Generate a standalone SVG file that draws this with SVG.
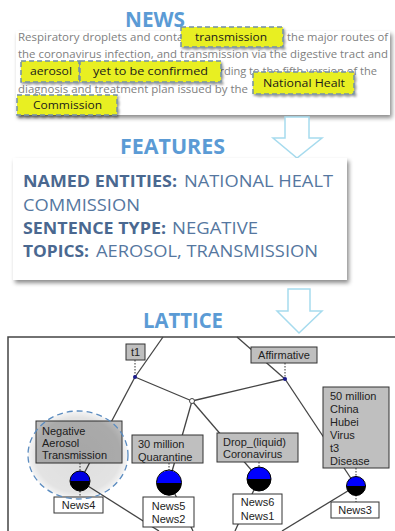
<svg xmlns="http://www.w3.org/2000/svg" width="395" height="531" viewBox="0 0 395 531">
<defs>
<filter id="sh" x="-10%" y="-10%" width="125%" height="140%">
<feDropShadow dx="2" dy="3" stdDeviation="2" flood-color="#000" flood-opacity="0.45"/>
</filter>
<filter id="hsh" x="-10%" y="-20%" width="130%" height="160%">
<feDropShadow dx="1.5" dy="2" stdDeviation="1.2" flood-color="#000" flood-opacity="0.4"/>
</filter>
<radialGradient id="glow" cx="50%" cy="50%" r="50%">
<stop offset="0" stop-color="#000" stop-opacity="0.13"/>
<stop offset="0.85" stop-color="#000" stop-opacity="0.11"/>
<stop offset="1" stop-color="#000" stop-opacity="0.04"/>
</radialGradient>
</defs>
<style>
.title{font-family:"Open Sans","Liberation Sans",sans-serif;font-weight:bold;font-size:21px;fill:#5b9bd5}
.news{font-family:"Open Sans","Liberation Sans",sans-serif;font-size:11.5px;fill:#808080}
.hl rect{fill:#e8ef22;stroke:#7390a6;stroke-width:1.5;stroke-dasharray:5 3;filter:url(#hsh)}
.hl text{font-family:"Open Sans","Liberation Sans",sans-serif;font-size:11px;fill:#1a1a1a}
.arrow{fill:#fff;stroke:#a6dbee;stroke-width:1.5}
.feat{font-family:"Open Sans","Liberation Sans",sans-serif;font-size:15.5px;fill:#5577a0}
.feat .b{font-weight:bold;fill:#4a6890}
.lbl{fill:#bfbfbf;stroke:#333;stroke-width:1}
.obj{fill:#fff;stroke:#333;stroke-width:1}
.lt{font-family:"Liberation Sans",Arial,sans-serif;font-size:11px;fill:#222}
.edge{stroke:#444;stroke-width:1.3;fill:none}
.dot{stroke:#333;stroke-width:1;stroke-dasharray:1.5 1.5;fill:none}
.blue{fill:#0000ff}
.blk{fill:#000}
.ring{fill:none;stroke:#000;stroke-width:1}
</style>

<!-- NEWS -->
<g id="news">
<rect x="16" y="31" width="374" height="84" fill="#fff" filter="url(#sh)"/>
<text class="news" x="18" y="41" textLength="175" lengthAdjust="spacingAndGlyphs">Respiratory droplets and contact</text>
<text class="news" x="267" y="41" textLength="121" lengthAdjust="spacingAndGlyphs">are the major routes of</text>
<text class="news" x="18" y="58" textLength="370" lengthAdjust="spacingAndGlyphs">the coronavirus infection, and transmission via the digestive tract and</text>
<text class="news" x="196" y="75" textLength="181" lengthAdjust="spacingAndGlyphs">according to the fifth version of the</text>
<text class="news" x="18" y="93" textLength="230" lengthAdjust="spacingAndGlyphs">diagnosis and treatment plan issued by the</text>
<text class="news" x="255" y="93" textLength="80" lengthAdjust="spacingAndGlyphs" opacity="0.5">National Health</text>
</g>
<g id="hl-transmission" class="hl"><rect x="181" y="27" width="102" height="20"/><text x="195" y="41" textLength="72" lengthAdjust="spacingAndGlyphs">transmission</text></g>
<g id="hl-aerosol" class="hl"><rect x="21" y="61" width="58" height="21"/><text x="30" y="75" textLength="42" lengthAdjust="spacingAndGlyphs">aerosol</text></g>
<g id="hl-confirmed" class="hl"><rect x="80" y="61" width="141" height="21"/><text x="93" y="75" textLength="115" lengthAdjust="spacingAndGlyphs">yet to be confirmed</text></g>
<g id="hl-national" class="hl"><rect x="253" y="72" width="101" height="22"/><text x="263" y="87" textLength="82" lengthAdjust="spacingAndGlyphs">National Healt</text></g>
<g id="hl-commission" class="hl"><rect x="17" y="95" width="100" height="20"/><text x="33" y="109" textLength="69" lengthAdjust="spacingAndGlyphs">Commission</text></g>
<text class="title" x="125" y="27" textLength="60" lengthAdjust="spacingAndGlyphs">NEWS</text>

<!-- arrow 1 -->
<polygon class="arrow" points="285,117 309,117 309,138 322,138 297,158 273,138 285,138"/>

<!-- FEATURES -->
<text class="title" x="120" y="154" textLength="105" lengthAdjust="spacingAndGlyphs">FEATURES</text>
<g id="features">
<rect x="13" y="158" width="334" height="122" fill="#fff" filter="url(#sh)"/>
<text class="feat" y="187"><tspan class="b" x="23" textLength="154" lengthAdjust="spacingAndGlyphs">NAMED ENTITIES:</tspan><tspan x="184" textLength="149" lengthAdjust="spacingAndGlyphs">NATIONAL HEALT</tspan></text>
<text class="feat" x="23" y="211" textLength="117" lengthAdjust="spacingAndGlyphs">COMMISSION</text>
<text class="feat" y="234"><tspan class="b" x="23" textLength="143" lengthAdjust="spacingAndGlyphs">SENTENCE TYPE:</tspan><tspan x="172" textLength="86" lengthAdjust="spacingAndGlyphs">NEGATIVE</tspan></text>
<text class="feat" y="257"><tspan class="b" x="23" textLength="66" lengthAdjust="spacingAndGlyphs">TOPICS:</tspan><tspan x="96" textLength="222" lengthAdjust="spacingAndGlyphs">AEROSOL, TRANSMISSION</tspan></text>
</g>

<!-- arrow 2 -->
<polygon class="arrow" points="288,289 310,289 310,311 322,311 299,333 277,311 288,311"/>

<!-- LATTICE -->
<text class="title" x="143" y="328" textLength="80" lengthAdjust="spacingAndGlyphs">LATTICE</text>
<rect id="lattice-frame" x="8" y="337" width="400" height="210" fill="#fff" stroke="#444" stroke-width="1.5"/>

<g id="connectors">
<line class="edge" x1="163" y1="337" x2="135" y2="377"/>
<line class="edge" x1="135" y1="377" x2="80" y2="481"/>
<line class="edge" x1="135" y1="377" x2="192" y2="401"/>
<line class="edge" x1="192" y1="401" x2="285" y2="379"/>
<line class="edge" x1="237" y1="337" x2="285" y2="379"/>
<line class="edge" x1="285" y1="379" x2="356" y2="486"/>
<line class="edge" x1="192" y1="401" x2="169" y2="482"/>
<line class="edge" x1="192" y1="401" x2="259" y2="479"/>
<line class="edge" x1="80" y1="481" x2="159" y2="531"/>
<line class="edge" x1="169" y1="482" x2="193" y2="531"/>
<line class="edge" x1="259" y1="479" x2="235" y2="531"/>
<line class="edge" x1="356" y1="486" x2="282" y2="531"/>
<line class="dot" x1="135" y1="360" x2="135" y2="376"/>
<line class="dot" x1="285" y1="363" x2="285" y2="378"/>
<line class="dot" x1="356" y1="468" x2="356" y2="477"/>
<line class="dot" x1="356" y1="495" x2="356" y2="502"/>
<line class="dot" x1="169" y1="463" x2="169" y2="470"/>
<line class="dot" x1="169" y1="494" x2="169" y2="497"/>
<line class="dot" x1="259" y1="462" x2="259" y2="467"/>
<line class="dot" x1="80" y1="463" x2="80" y2="471"/>
<line class="dot" x1="80" y1="491" x2="80" y2="497"/>
</g>

<g id="n-top-left"><circle cx="135" cy="377" r="2" fill="#1a1a8c"/></g>
<g id="n-top-right"><circle cx="285" cy="379" r="2" fill="#1a1a8c"/></g>
<g id="n-mid"><circle cx="192" cy="401" r="2.5" fill="#fff" stroke="#444" stroke-width="1"/></g>

<g id="t1"><rect class="lbl" x="126" y="344" width="19" height="16"/><text class="lt" x="135.5" y="356" text-anchor="middle">t1</text></g>
<g id="affirmative"><rect class="lbl" x="251" y="347" width="66" height="16"/><text class="lt" x="284" y="359" text-anchor="middle">Affirmative</text></g>

<g id="n-50million">
<rect class="lbl" x="323" y="387" width="66" height="81"/>
<text class="lt" x="330" y="400">50 million</text>
<text class="lt" x="330" y="413">China</text>
<text class="lt" x="330" y="426">Hubei</text>
<text class="lt" x="330" y="439">Virus</text>
<text class="lt" x="330" y="452">t3</text>
<text class="lt" x="330" y="465">Disease</text>
<path class="blue" d="M346.5,486 A9.5,9.5 0 0 1 365.5,486 Z"/><path class="blk" d="M346.5,486 A9.5,9.5 0 0 0 365.5,486 Z"/><circle class="ring" cx="356" cy="486" r="9.5"/>
<rect class="obj" x="331" y="502" width="48" height="16"/><text class="lt" x="355" y="514" text-anchor="middle">News3</text>
</g>

<g id="n-drop">
<rect class="lbl" x="217" y="433" width="81" height="29"/>
<text class="lt" x="223" y="446">Drop_(liquid)</text>
<text class="lt" x="223" y="458">Coronavirus</text>
<path class="blue" d="M247,479 A12,12 0 0 1 271,479 Z"/><path class="blk" d="M247,479 A12,12 0 0 0 271,479 Z"/><circle class="ring" cx="259" cy="479" r="12"/>
<rect class="obj" x="233" y="494" width="49" height="30"/><text class="lt" x="257.5" y="506" text-anchor="middle">News6</text><text class="lt" x="257.5" y="520" text-anchor="middle">News1</text>
</g>

<g id="n-30million">
<rect class="lbl" x="132" y="435" width="71" height="28"/>
<text class="lt" x="138" y="448">30 million</text>
<text class="lt" x="138" y="461">Quarantine</text>
<path class="blue" d="M156.5,483 A12.5,12.5 0 0 1 181.5,483 Z"/><path class="blk" d="M156.5,483 A12.5,12.5 0 0 0 181.5,483 Z"/><circle class="ring" cx="169" cy="482.5" r="12.5"/>
<rect class="obj" x="143" y="497" width="51" height="30"/><text class="lt" x="168.5" y="510" text-anchor="middle">News5</text><text class="lt" x="168.5" y="523" text-anchor="middle">News2</text>
</g>

<g id="n-negative">
<rect class="lbl" x="36" y="421" width="86" height="42"/>
<text class="lt" x="42" y="435">Negative</text>
<text class="lt" x="42" y="447">Aerosol</text>
<text class="lt" x="42" y="459">Transmission</text>
<path class="blue" d="M70,481 A10,10 0 0 1 90,481 Z"/><path class="blk" d="M70,481 A10,10 0 0 0 90,481 Z"/><circle class="ring" cx="80" cy="481" r="10"/>
<rect class="obj" x="54" y="497" width="49" height="16"/><text class="lt" x="78.5" y="509" text-anchor="middle">News4</text>
<ellipse cx="78" cy="455" rx="50" ry="44" fill="url(#glow)" stroke="#5b8cc0" stroke-width="1.3" stroke-dasharray="6 4"/>
</g>
</svg>
